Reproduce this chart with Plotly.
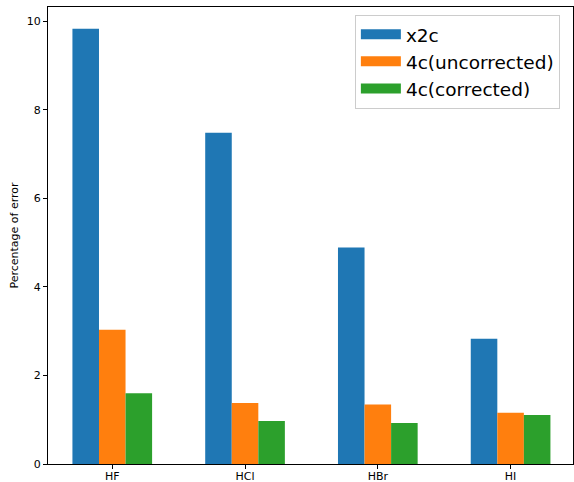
import plotly.graph_objects as go

categories = ["HF", "HCl", "HBr", "HI"]
x2c = [9.83, 7.48, 4.89, 2.83]
uncorrected = [3.03, 1.38, 1.345, 1.158]
corrected = [1.60, 0.97, 0.925, 1.106]
series_names = ["x2c", "4c(uncorrected)", "4c(corrected)"]
colors = ["#1f77b4", "#ff7f0e", "#2ca02c"]

xpos = list(range(len(categories)))
offsets = [-0.2, 0.0, 0.2]
fig = go.Figure()
for name, vals, col, off in zip(series_names, [x2c, uncorrected, corrected], colors, offsets):
    fig.add_trace(go.Bar(
        x=[p + off for p in xpos], y=vals, width=0.2, marker_color=col,
        marker_line_width=0, showlegend=False, name=name))
for name, col in zip(series_names, colors):
    fig.add_trace(go.Scatter(
        x=[None], y=[None], mode="lines", line=dict(color=col, width=12),
        name=name, showlegend=True))

axis_common = dict(showline=True, linecolor="black", linewidth=1, mirror=True,
                   ticks="outside", ticklen=4, tickcolor="black", showgrid=False,
                   zeroline=False, tickfont=dict(family="DejaVu Sans", size=11, color="black"))
fig.update_layout(
    width=574, height=482,
    margin=dict(l=48, r=1, t=7, b=18),
    plot_bgcolor="white", paper_bgcolor="white",
    barmode="overlay",
    xaxis=dict(range=[-0.484, 3.47], tickvals=xpos, ticktext=categories,
               automargin=False, ticklabelstandoff=-2, **axis_common),
    yaxis=dict(range=[0, 10.32], tickvals=[0, 2, 4, 6, 8, 10], automargin=False,
               title=dict(text="Percentage of error", standoff=5,
                          font=dict(family="DejaVu Sans", size=11, color="black")),
               **axis_common),
    legend=dict(x=0.975, y=0.983, xanchor="right", yanchor="top",
                bgcolor="rgba(255,255,255,0.8)", bordercolor="#cccccc", borderwidth=1,
                font=dict(family="DejaVu Sans", size=18.5, color="black"),
                itemwidth=40, tracegroupgap=2),
)
fig.write_html("out.html", config={"displayModeBar": False},
               post_script="document.body.style.margin='0px';document.body.style.padding='0px';")
